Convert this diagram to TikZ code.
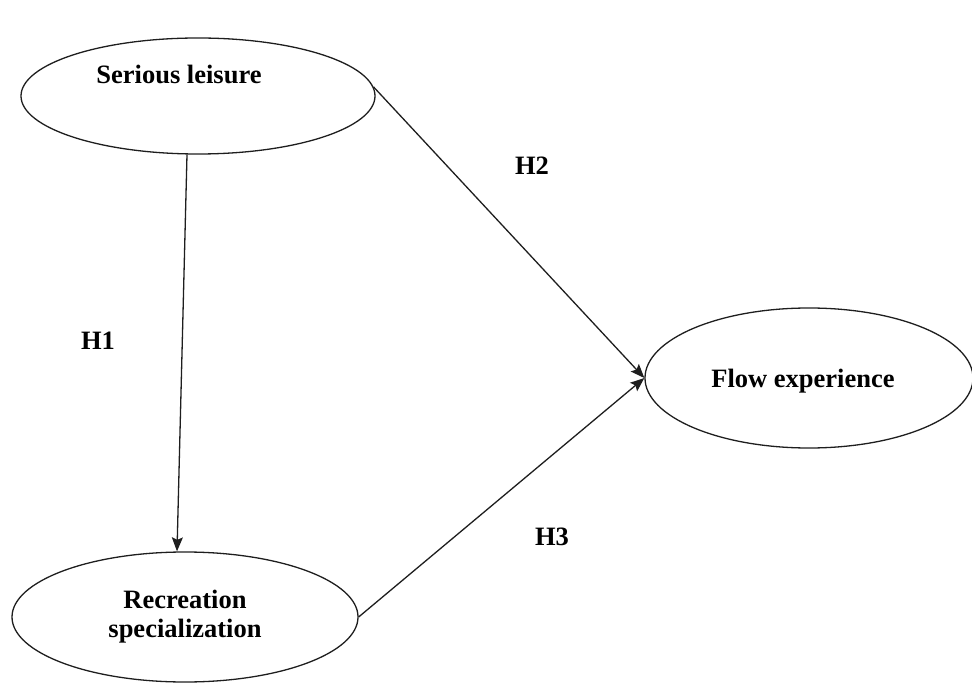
\documentclass[tikz,border=0pt]{standalone}
\usepackage{fontspec}
\setmainfont{Liberation Serif}
\usepackage{tikz}
\usetikzlibrary{arrows.meta,shapes.geometric}
\definecolor{inkline}{RGB}{30,30,30}
\tikzset{
  construct/.style={ellipse,draw=inkline,line width=1.3pt,inner sep=0pt,align=center,font=\bfseries\fontsize{26.5}{29}\selectfont},
  ctext/.style={font=\bfseries\fontsize{26.5}{29}\selectfont,inner sep=0pt},
  hyp/.style={font=\bfseries\fontsize{26.5}{30}\selectfont,inner sep=0pt},
  link/.style={-{Stealth[length=14pt,width=11pt,inset=2.5pt]},draw=inkline,line width=1.3pt}
}

\begin{document}
\begin{tikzpicture}[x=1pt,y=-1pt]
  \useasboundingbox (0,0) rectangle (972,684);
  \node[construct,minimum width=354pt,minimum height=116pt,label={[ctext,xshift=-19pt,yshift=22pt]center:Serious leisure}] (sl) at (198,96) {};
  \node[construct,minimum width=328pt,minimum height=140pt,label={[ctext,xshift=-6pt,yshift=-3pt]center:Flow experience}] (flow) at (809,378) {};
  \node[construct,minimum width=346pt,minimum height=130pt] (rec) at (185,617) {Recreation\\specialization};
  \node[hyp] (h1) at (98,341) {H1};
  \node[hyp] (h2) at (532,166) {H2};
  \node[hyp] (h3) at (552,537) {H3};
  \draw[link] ([xshift=-11pt]sl.south) -- ([xshift=-8pt]rec.north);
  \draw[link] (sl.3) -- (flow.west);
  \draw[link] (rec.east) -- (flow.west);
\end{tikzpicture}
\end{document}
